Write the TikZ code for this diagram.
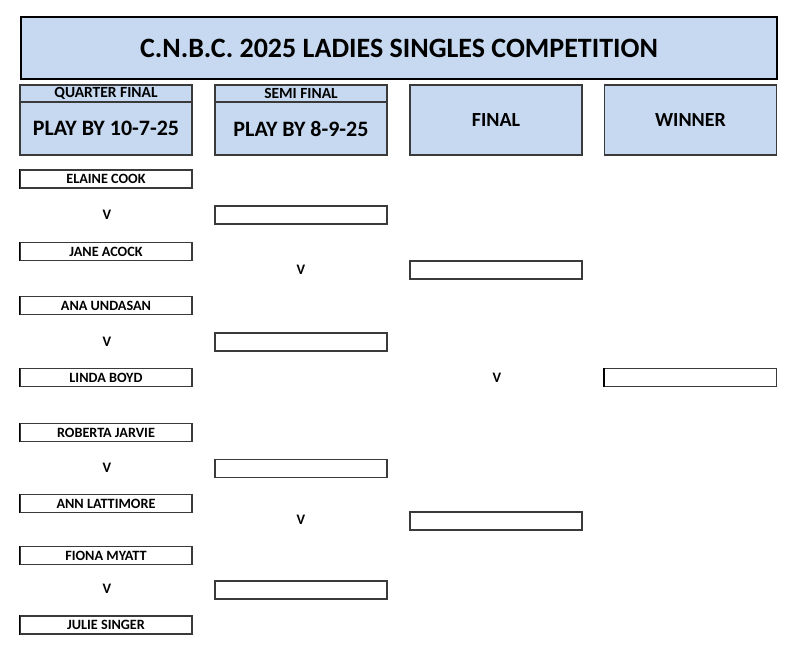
\documentclass[tikz,border=0pt]{standalone}
\usepackage{fontspec}
\setmainfont{Carlito}
\definecolor{hdrblue}{HTML}{C6D9F0}
\definecolor{edge}{HTML}{3A3A3A}
\begin{document}
\begin{tikzpicture}[x=1pt,y=1pt,
  titlebox/.style={draw=black,line width=2.6pt,fill=hdrblue,minimum width=756pt,minimum height=62pt,inner sep=0pt,font=\bfseries\fontsize{28}{31}\selectfont},
  hdrtop/.style={draw=edge,line width=1.6pt,fill=hdrblue,minimum width=172pt,minimum height=17pt,inner sep=0pt,font=\bfseries\fontsize{15.5}{17}\selectfont},
  hdrbot/.style={draw=edge,line width=1.6pt,fill=hdrblue,minimum width=172pt,minimum height=53pt,inner sep=0pt,font=\bfseries\fontsize{22}{25}\selectfont},
  hdrfull/.style={draw=edge,line width=1.6pt,fill=hdrblue,minimum width=172pt,minimum height=70pt,inner sep=0pt,font=\bfseries\fontsize{20}{23}\selectfont},
  namebox/.style={draw=edge,line width=1.1pt,fill=white,minimum width=172pt,minimum height=18pt,inner sep=0pt,font=\bfseries\fontsize{14.2}{16}\selectfont},
  vs/.style={inner sep=0pt,font=\bfseries\fontsize{14.5}{16}\selectfont},
  leftedge/.style={draw=black,line width=1.8pt}
]
\useasboundingbox (0,0) rectangle (800,-664);
% title
\node[titlebox] (title) at (399,-48) {C.N.B.C. 2025 LADIES SINGLES COMPETITION};
% headers
\node[hdrtop] (qfh) at (106,-93.5) {QUARTER FINAL};
\node[hdrbot] (qfd) at (106,-128.5) {PLAY BY 10-7-25};
\node[hdrtop] (sfh) at (301,-93.5) {SEMI FINAL};
\node[hdrbot] (sfd) at (301,-128.5) {PLAY BY 8-9-25};
\node[hdrfull] (fh) at (496,-120) {FINAL};
\node[hdrfull] (wh) at (690.5,-120) {WINNER};
% quarter final names
\node[namebox] (p1) at (106,-179) {ELAINE COOK};
\node[namebox] (p2) at (106,-251.5) {JANE ACOCK};
\node[namebox] (p3) at (106,-305.5) {ANA UNDASAN};
\node[namebox] (p4) at (106,-377.5) {LINDA BOYD};
\node[namebox] (p5) at (106,-432.5) {ROBERTA JARVIE};
\node[namebox] (p6) at (106,-503.5) {ANN LATTIMORE};
\node[namebox] (p7) at (106,-555.5) {FIONA MYATT};
\node[namebox] (p8) at (106,-625) {JULIE SINGER};
\foreach \n in {p1,p2,p3,p4,p5,p6,p7,p8}{
  \draw[leftedge] (\n.north west) -- (\n.south west);
}
\node[vs] (v1) at (107,-215) {V};
\node[vs] (v2) at (107,-342) {V};
\node[vs] (v3) at (107,-468) {V};
\node[vs] (v4) at (107,-589) {V};
% semi final slots
\node[namebox] (s1) at (301,-215) {};
\node[namebox] (s2) at (301,-342) {};
\node[namebox] (s3) at (301,-468.5) {};
\node[namebox] (s4) at (301,-590) {};
\foreach \n in {s1,s2,s3,s4}{
  \draw[draw=edge,line width=1.8pt] (\n.north east) -- (\n.south east);
}
\node[vs] (sv1) at (301,-270) {V};
\node[vs] (sv2) at (301,-520) {V};
% final slots
\node[namebox] (f1) at (496,-270) {};
\node[namebox] (f2) at (496,-521) {};
\node[vs] (fv) at (497,-378) {V};
% winner slot
\node[namebox] (w1) at (690.5,-377.5) {};
\draw[leftedge] (w1.north west) -- (w1.south west);
\end{tikzpicture}
\end{document}
